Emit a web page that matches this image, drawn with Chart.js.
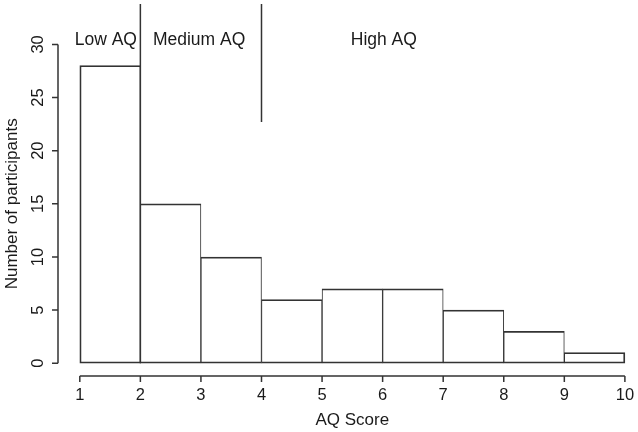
<!DOCTYPE html>
<html>
<head>
<meta charset="utf-8">
<script src="https://cdn.jsdelivr.net/npm/chart.js@4/dist/chart.umd.min.js"></script>
<style>
  html, body { margin: 0; padding: 0; background: #fff; }
  #wrap { width: 638px; height: 432px; position: relative; }
</style>
</head>
<body>
<div id="wrap"><canvas id="histChart"></canvas></div>
<script>
// histogram bins (left edges) and counts
const binStarts = [1, 2, 3, 4, 5, 6, 7, 8, 9];
const counts = [28, 15, 10, 6, 7, 7, 5, 3, 1];
const xTicks = [1, 2, 3, 4, 5, 6, 7, 8, 9, 10];
const yTicks = [0, 5, 10, 15, 20, 25, 30];
// group boundaries and labels
const cutLines = [{ x: 2, from: 0, to: 33.8 }, { x: 4, from: 22.7, to: 33.8 }];
const groupLabels = [
  { text: 'Low AQ', x: 1.43, y: 30.4 },
  { text: 'Medium AQ', x: 2.97, y: 30.4 },
  { text: 'High AQ', x: 6.02, y: 30.4 }
];

const ink = '#333';
const textInk = '#1a1a1a';
const font = '"Liberation Sans", Arial, Helvetica, sans-serif';

const rAxes = {
  id: 'rAxes',
  afterDraw(chart) {
    const { ctx, scales: { x, y } } = chart;
    ctx.save();
    ctx.strokeStyle = ink;
    ctx.fillStyle = textInk;
    ctx.lineWidth = 1.5;

    // x axis, R style (line only between first and last tick)
    const xAxisY = y.getPixelForValue(-1.2);
    ctx.beginPath();
    ctx.moveTo(x.getPixelForValue(xTicks[0]), xAxisY);
    ctx.lineTo(x.getPixelForValue(xTicks[xTicks.length - 1]), xAxisY);
    xTicks.forEach(t => {
      const px = x.getPixelForValue(t);
      ctx.moveTo(px, xAxisY);
      ctx.lineTo(px, xAxisY + 6);
    });
    ctx.stroke();
    ctx.font = '16.5px ' + font;
    ctx.textAlign = 'center';
    ctx.textBaseline = 'middle';
    xTicks.forEach(t => ctx.fillText(String(t), x.getPixelForValue(t), xAxisY + 19));

    // y axis
    const yAxisX = chart.chartArea.left;
    ctx.beginPath();
    ctx.moveTo(yAxisX, y.getPixelForValue(yTicks[0]));
    ctx.lineTo(yAxisX, y.getPixelForValue(yTicks[yTicks.length - 1]));
    yTicks.forEach(t => {
      const py = y.getPixelForValue(t);
      ctx.moveTo(yAxisX, py);
      ctx.lineTo(yAxisX - 6, py);
    });
    ctx.stroke();
    yTicks.forEach(t => {
      ctx.save();
      ctx.translate(yAxisX - 20, y.getPixelForValue(t));
      ctx.rotate(-Math.PI / 2);
      ctx.fillText(String(t), 0, 0);
      ctx.restore();
    });

    // axis titles
    ctx.font = '17px ' + font;
    ctx.fillText('AQ Score', x.getPixelForValue(5.5), 420);
    ctx.save();
    ctx.translate(12, y.getPixelForValue(15));
    ctx.rotate(-Math.PI / 2);
    ctx.fillText('Number of participants', 0, 0);
    ctx.restore();

    // group cut lines
    ctx.lineWidth = 1.5;
    ctx.beginPath();
    cutLines.forEach(c => {
      const px = x.getPixelForValue(c.x);
      ctx.moveTo(px, y.getPixelForValue(c.from));
      ctx.lineTo(px, y.getPixelForValue(c.to));
    });
    ctx.stroke();

    ctx.font = '17.5px ' + font;
    groupLabels.forEach(g => {
      ctx.fillText(g.text, x.getPixelForValue(g.x), y.getPixelForValue(g.y));
    });
    ctx.restore();
  }
};

new Chart(document.getElementById('histChart'), {
  type: 'bar',
  data: {
    datasets: [{
      data: binStarts.map((b, i) => ({ x: b + 0.5, y: counts[i] })),
      backgroundColor: '#fff',
      borderColor: ink,
      borderSkipped: false,
      borderWidth: ctx => ({
        top: 1.8,
        bottom: 1.8,
        left: ctx.dataIndex === 0 ? 1.8 : 1,
        right: ctx.dataIndex === counts.length - 1 ? 1.8 : 1
      }),
      barPercentage: 1,
      categoryPercentage: 1
    }]
  },
  options: {
    responsive: true,
    maintainAspectRatio: false,
    animation: false,
    layout: { padding: { left: 58, right: 1, top: 4, bottom: 56 } },
    plugins: {
      legend: { display: false },
      tooltip: { enabled: false }
    },
    scales: {
      x: { type: 'linear', min: 0.64, max: 10.2, offset: false, display: false },
      y: { min: -1.2, max: 33.8, display: false }
    }
  },
  plugins: [rAxes]
});
</script>
</body>
</html>
